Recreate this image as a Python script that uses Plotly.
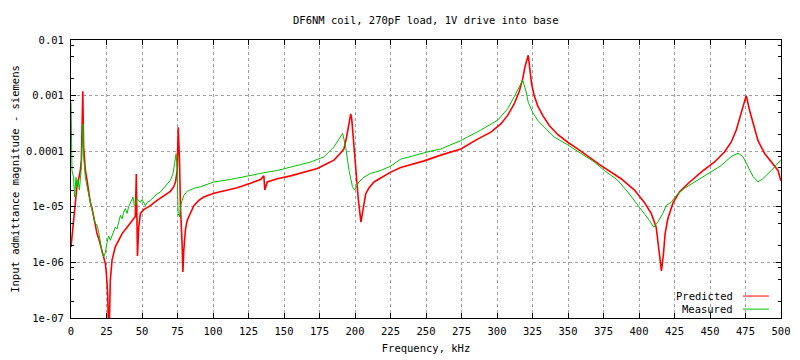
import plotly.graph_objects as go

# ---- data ----
pred_freq_khz = [0.0, 1.8, 3.0, 4.2, 5.4, 6.6, 7.3, 8.0, 8.3, 8.9, 10.1, 11.3, 12.4, 13.6, 14.8, 15.9,
                 17.1, 18.3, 19.5, 20.7, 21.9, 23.0, 24.2, 24.9, 25.8, 26.5, 27.0, 27.7, 28.9, 31.2,
                 33.6, 36.0, 39.5, 43.0, 45.3, 46.0, 46.8, 47.7, 48.9, 51.2, 55.9, 60.6, 65.3, 70.0,
                 72.4, 73.6, 74.8, 75.5, 76.4, 77.1, 78.3, 78.8, 79.4, 80.6, 81.8, 84.1, 86.5, 90.0,
                 93.5, 100.6, 107.6, 117.1, 126.4, 133.5, 135.8, 136.5, 138.2, 145.3, 154.7, 164.0,
                 173.5, 180.5, 185.2, 188.7, 192.2, 194.1, 195.8, 197.0, 197.7, 198.9, 199.8, 201.2,
                 202.4, 204.2, 205.9, 207.5, 209.9, 213.4, 218.1, 225.2, 232.2, 248.7, 260.4, 274.5,
                 286.3, 295.7, 302.7, 307.5, 312.1, 315.7, 318.1, 319.7, 322.0, 323.4, 324.4, 326.2,
                 328.6, 332.2, 336.8, 342.7, 349.8, 356.8, 366.2, 373.3, 387.4, 396.8, 403.8, 408.6,
                 412.1, 414.4, 415.8, 417.2, 418.4, 420.3, 423.8, 428.5, 434.4, 443.8, 453.2, 460.2,
                 464.9, 468.5, 472.0, 475.5, 477.9, 480.3, 483.8, 488.5, 493.2, 497.9, 500.0]
pred_admittance_s = [1.9e-6, 5e-6, 1.15e-5, 2.3e-5, 3.2e-5, 4.5e-5, 7e-5, 3e-4, 1.2e-3, 1.2e-4, 4.6e-5,
                     3e-5, 1.8e-5, 1.2e-5, 9.4e-6, 6.6e-6, 4.6e-6, 3.3e-6, 2.7e-6, 2.1e-6, 1.5e-6,
                     1.25e-6, 9.5e-7, 6.4e-7, 2.8e-7, 5e-8, 8e-8, 4.8e-7, 1.1e-6, 1.9e-6, 2.6e-6,
                     3.3e-6, 4.3e-6, 5.5e-6, 6.7e-6, 3.9e-5, 1.3e-6, 4.3e-6, 7.6e-6, 8.9e-6, 1.05e-5,
                     1.3e-5, 1.55e-5, 1.9e-5, 2.3e-5, 2.8e-5, 4.5e-5, 2.7e-4, 7e-5, 1e-5, 1.9e-6, 6.7e-7,
                     1.6e-6, 3.9e-6, 5.7e-6, 8e-6, 1.05e-5, 1.3e-5, 1.5e-5, 1.75e-5, 1.95e-5, 2.2e-5,
                     2.65e-5, 3.1e-5, 3.6e-5, 2e-5, 2.8e-5, 3.2e-5, 3.6e-5, 4.2e-5, 4.9e-5, 6e-5, 6.9e-5,
                     8.6e-5, 1.1e-4, 1.8e-4, 3.1e-4, 4.7e-4, 3.8e-4, 1.6e-4, 9e-5, 3e-5, 1.3e-5, 5.3e-6,
                     1e-5, 1.7e-5, 2.2e-5, 2.8e-5, 3.3e-5, 4.2e-5, 5.1e-5, 6.7e-5, 8.5e-5, 1.1e-4,
                     1.65e-4, 2.2e-4, 3.1e-4, 4.4e-4, 7.1e-4, 1.2e-3, 2e-3, 3.3e-3, 5.3e-3, 2.8e-3,
                     1.6e-3, 1e-3, 6.6e-4, 4.4e-4, 2.9e-4, 2e-4, 1.45e-4, 1.1e-4, 7.4e-5, 5.5e-5, 3.2e-5,
                     2e-5, 1.2e-5, 7.6e-6, 4.3e-6, 1.4e-6, 7e-7, 1.4e-6, 3.3e-6, 6.1e-6, 1.15e-5,
                     1.85e-5, 2.6e-5, 4.2e-5, 6.4e-5, 9.7e-5, 1.45e-4, 2.4e-4, 5e-4, 1e-3, 5.4e-4,
                     3.1e-4, 1.55e-4, 9.1e-5, 6.4e-5, 4.5e-5, 2.9e-5]

meas_freq_khz = [0.0, 0.7, 1.8, 2.5, 3.5, 4.2, 4.9, 5.9, 7.1, 7.8, 8.5, 8.9, 10.1, 11.3, 12.4, 13.6,
                 14.8, 15.9, 17.1, 18.3, 19.5, 20.7, 21.9, 23.0, 24.2, 25.4, 26.5, 27.7, 28.9, 30.0,
                 31.2, 32.4, 33.6, 34.8, 36.0, 37.1, 38.3, 39.5, 40.6, 41.8, 43.0, 43.7, 44.6, 45.6,
                 46.5, 47.7, 48.9, 50.1, 51.2, 52.4, 53.6, 55.9, 58.3, 60.6, 63.0, 65.3, 67.7, 70.0,
                 71.9, 73.1, 74.0, 74.7, 75.4, 76.4, 77.1, 78.3, 79.4, 81.8, 86.5, 91.2, 100.6, 112.3,
                 124.1, 135.8, 145.3, 157.0, 168.8, 178.1, 185.2, 188.7, 191.3, 193.4, 195.8, 198.2,
                 199.8, 202.8, 206.3, 211.1, 218.1, 225.2, 232.2, 251.1, 260.4, 274.5, 288.6, 300.4,
                 307.5, 312.1, 315.7, 318.1, 320.4, 322.0, 325.1, 328.6, 333.3, 340.3, 349.8, 359.2,
                 368.5, 375.6, 385.0, 392.1, 397.9, 402.7, 407.3, 410.4, 413.2, 416.8, 419.1, 422.6,
                 426.2, 432.0, 439.1, 448.5, 457.8, 464.9, 469.7, 473.2, 476.7, 480.3, 483.8, 487.2,
                 493.2, 500.0]
meas_admittance_s = [7.4e-4, 4.5e-5, 3.4e-5, 1.5e-5, 3.4e-5, 2.3e-5, 3e-5, 2e-5, 4.5e-5, 1.2e-4, 3.1e-4,
                     8e-5, 3.4e-5, 2.3e-5, 1.7e-5, 1.15e-5, 8e-6, 6.7e-6, 5e-6, 4.7e-6, 3.5e-6, 2.3e-6,
                     1.5e-6, 1.25e-6, 1.5e-6, 2.3e-6, 3e-6, 2.5e-6, 3e-6, 3.5e-6, 4.3e-6, 4e-6, 5.7e-6,
                     7e-6, 6.1e-6, 8e-6, 9.3e-6, 7.6e-6, 1e-5, 1.15e-5, 1.3e-5, 1.5e-5, 1.05e-5, 1.1e-5,
                     1.4e-5, 1.3e-5, 1.2e-5, 1.35e-5, 1.2e-5, 1.05e-5, 1.2e-5, 1.3e-5, 1.5e-5, 1.7e-5,
                     1.85e-5, 2.15e-5, 2.5e-5, 3e-5, 4e-5, 6e-5, 9e-5, 5.2e-5, 7.6e-6, 6.6e-6, 1e-5,
                     1.3e-5, 1.6e-5, 1.9e-5, 2.15e-5, 2.3e-5, 2.8e-5, 3.1e-5, 3.6e-5, 4.1e-5, 4.5e-5,
                     5.3e-5, 6.4e-5, 7.9e-5, 1.2e-4, 1.65e-4, 2.1e-4, 1.2e-4, 4.5e-5, 2.3e-5, 2e-5,
                     2.8e-5, 3.4e-5, 4e-5, 4.5e-5, 5.4e-5, 7.2e-5, 9.7e-5, 1.1e-4, 1.55e-4, 2.4e-4,
                     3.6e-4, 5.8e-4, 9.5e-4, 1.5e-3, 1.9e-3, 1.2e-3, 7.6e-4, 5e-4, 3.6e-4, 2.7e-4,
                     1.8e-4, 1.3e-4, 9e-5, 6.4e-5, 4.5e-5, 3e-5, 1.85e-5, 1.2e-5, 8e-6, 5.7e-6, 4.3e-6,
                     5.3e-6, 7.6e-6, 1.05e-5, 1.2e-5, 1.6e-5, 2.15e-5, 2.8e-5, 4e-5, 5.5e-5, 8e-5,
                     9.2e-5, 8e-5, 5.2e-5, 3.5e-5, 2.8e-5, 3.2e-5, 4.5e-5, 7e-5]

x_tick_vals = list(range(0, 501, 25))
y_tick_vals = [1e-7, 1e-6, 1e-5, 1e-4, 1e-3, 1e-2]
y_tick_text = ["1e-07", "1e-06", "1e-05", "0.0001", "0.001", "0.01"]
y_minor_vals = [m * 10.0 ** e for e in range(-7, -2) for m in (2, 5, 8)]

title_text = "DF6NM coil, 270pF load, 1V drive into base"
x_title = "Frequency, kHz"
y_title = "Input admittance magnitude - siemens"
series_names = ["Predicted", "Measured"]
series_colors = ["#ff0000", "#00c000"]

FONT = "DejaVu Sans Mono, Liberation Mono, monospace"
FS = 10.5

fig = go.Figure()
fig.add_trace(go.Scatter(x=pred_freq_khz, y=pred_admittance_s, mode="lines",
                         name=series_names[0], line=dict(color=series_colors[0], width=1.6)))
fig.add_trace(go.Scatter(x=meas_freq_khz, y=meas_admittance_s, mode="lines",
                         name=series_names[1], line=dict(color=series_colors[1], width=1)))

axis_common = dict(showline=True, linecolor="black", linewidth=1, mirror="allticks",
                   ticks="inside", tickcolor="black", ticklen=5, showgrid=True,
                   gridcolor="#a0a0a0", griddash="3px,3px", gridwidth=1, zeroline=False,
                   automargin=False,
                   tickfont=dict(family=FONT, size=FS, color="black"))

fig.update_xaxes(range=[0, 500], tickmode="array", tickvals=x_tick_vals, ticklabelstandoff=3,
                 title=dict(text=x_title, font=dict(family=FONT, size=FS, color="black"), standoff=9),
                 **axis_common)
fig.update_yaxes(type="log", range=[-7, -2], tickmode="array", tickvals=y_tick_vals,
                 ticktext=y_tick_text, ticklabelstandoff=4,
                 minor=dict(tickmode="array", tickvals=y_minor_vals, ticks="inside",
                            ticklen=3, tickcolor="black", showgrid=False),
                 title=dict(text=y_title, font=dict(family=FONT, size=FS, color="black"), standoff=4),
                 **axis_common)

# gnuplot-style key: text followed by line sample
legend_rows = [(0.079, 0), (0.032, 1)]
annotations = [dict(text=title_text, xref="paper", yref="paper", x=0.5, y=1.0, yshift=20,
                    showarrow=False, xanchor="center", yanchor="middle",
                    font=dict(family=FONT, size=FS, color="black"))]
shapes = []
for yp, i in legend_rows:
    annotations.append(dict(text=series_names[i], xref="paper", yref="paper", x=0.935, y=yp,
                            showarrow=False, xanchor="right", yanchor="middle",
                            font=dict(family=FONT, size=FS, color="black")))
    shapes.append(dict(type="line", xref="paper", yref="paper", x0=0.9465, x1=0.983, y0=yp, y1=yp,
                       line=dict(color=series_colors[i], width=1)))

# the page body has an 8px margin, so the figure is 8px smaller and margins shifted
fig.update_layout(width=792, height=352, margin=dict(l=63, r=19, t=32, b=42),
                  paper_bgcolor="white", plot_bgcolor="white", showlegend=False,
                  font=dict(family=FONT, size=FS, color="black"),
                  annotations=annotations, shapes=shapes)

fig.write_html("out.html")
